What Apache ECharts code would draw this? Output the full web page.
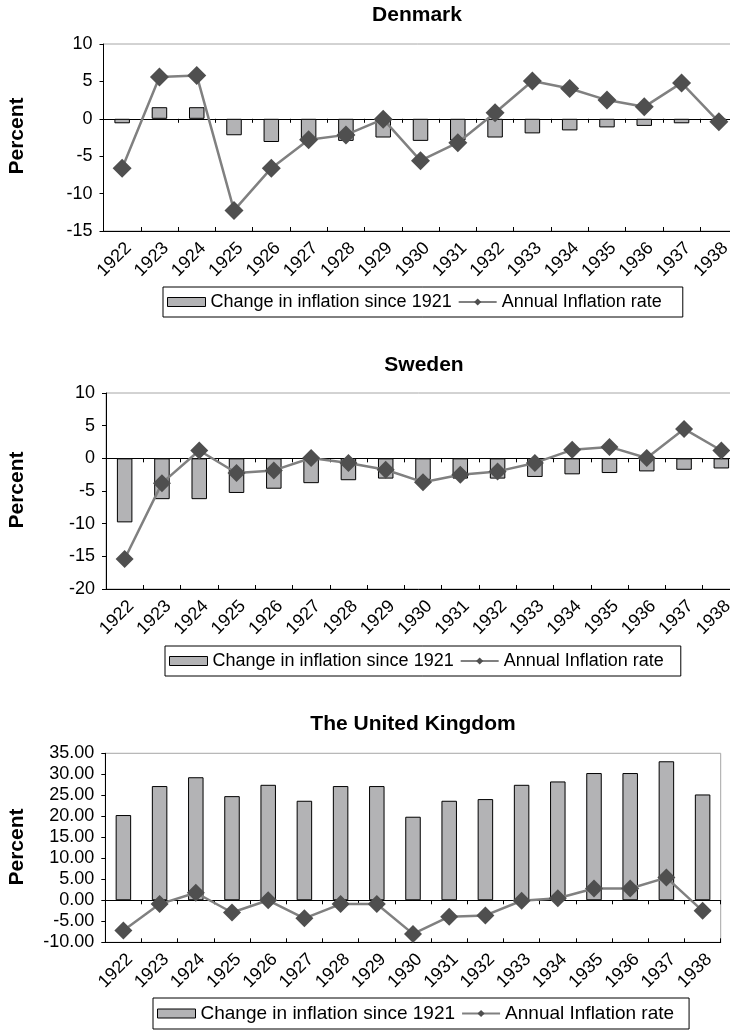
<!DOCTYPE html>
<html>
<head>
<meta charset="utf-8">
<script src="https://cdn.jsdelivr.net/npm/echarts@6/dist/echarts.min.js"></script>
<style>
  html, body { margin: 0; padding: 0; background: #fff; }
  #chart { width: 730px; height: 1030px; }
</style>
</head>
<body>
<div id="chart"></div>
<script>
// Inflation in Denmark, Sweden and the United Kingdom, 1922-1938
const years = ['1922', '1923', '1924', '1925', '1926', '1927', '1928', '1929', '1930',
               '1931', '1932', '1933', '1934', '1935', '1936', '1937', '1938'];

const BAR_NAME = 'Change in inflation since 1921';
const LINE_NAME = 'Annual Inflation rate';

const denmarkChange = [-0.6, 1.55, 1.55, -2.2, -3.1, -2.9, -2.95, -2.5, -2.95, -2.9, -2.5, -1.95, -1.55, -1.15, -0.95, -0.6, -0.3];
const denmarkAnnual = [-6.6, 5.6, 5.8, -12.25, -6.6, -2.8, -2.15, -0.05, -5.6, -3.2, 0.8, 5.05, 4.05, 2.5, 1.6, 4.8, -0.4];

const swedenChange = [-9.8, -6.25, -6.25, -5.3, -4.65, -3.8, -3.35, -3.1, -3.3, -3.1, -3.1, -2.85, -2.45, -2.25, -2.0, -1.75, -1.55];
const swedenAnnual = [-15.4, -3.8, 1.2, -2.25, -1.85, 0.05, -0.7, -1.75, -3.65, -2.5, -2.0, -0.7, 1.3, 1.75, 0.05, 4.5, 1.2];

const ukChange = [20.3, 27.2, 29.3, 24.8, 27.5, 23.7, 27.2, 27.2, 19.9, 23.7, 24.1, 27.5, 28.3, 30.3, 30.3, 33.1, 25.2];
const ukAnnual = [-7.2, -0.9, 1.8, -2.9, 0.0, -4.3, -0.9, -0.9, -8.0, -3.9, -3.6, -0.1, 0.5, 2.8, 2.8, 5.4, -2.5];

// y-axis tick values for each panel
const denmarkTicks = [-15, -10, -5, 0, 5, 10];
const swedenTicks = [-20, -15, -10, -5, 0, 5, 10];
const ukTicks = [-10, -5, 0, 5, 10, 15, 20, 25, 30, 35];

const FONT = "'Liberation Sans', Arial, Helvetica, sans-serif";

const panels = [
  { title: 'Denmark', change: denmarkChange, annual: denmarkAnnual, ticks: denmarkTicks, decimals: 0,
    grid: { left: 103.5, top: 44, width: 634, height: 187 },
    titleX: 417, titleY: 15, labelY: 136,
    legend: { left: 163, top: 287, fontSize: 18, padRight: 21 }, symbolSize: 19 },
  { title: 'Sweden', change: swedenChange, annual: swedenAnnual, ticks: swedenTicks, decimals: 0,
    grid: { left: 106, top: 393, width: 634, height: 196 },
    titleX: 424, titleY: 365, labelY: 490,
    legend: { left: 165, top: 646, fontSize: 18, padRight: 17 }, symbolSize: 18 },
  { title: 'The United Kingdom', change: ukChange, annual: ukAnnual, ticks: ukTicks, decimals: 2,
    grid: { left: 105.3, top: 753.3, width: 615.4, height: 189 },
    titleX: 413, titleY: 724, labelY: 847,
    legend: { left: 153, top: 998, fontSize: 19, padRight: 15 }, symbolSize: 18 }
];

const option = {
  animation: false,
  backgroundColor: '#ffffff',
  textStyle: { fontFamily: FONT },
  grid: [], xAxis: [], yAxis: [], series: [], legend: [], graphic: []
};

panels.forEach((p, i) => {
  // plot area keeps its given box even where it runs past the canvas edge
  option.grid.push(Object.assign({
    show: true, borderColor: '#a6a6a6', borderWidth: 1, backgroundColor: 'transparent',
    outerBoundsMode: 'none', containLabel: false
  }, p.grid));

  // category axis carrying the year labels along the bottom of the plot
  option.xAxis.push({
    type: 'category', gridIndex: i, data: years, position: 'bottom',
    axisLine: { show: false, onZero: false },
    axisTick: { show: false },
    splitLine: { show: false },
    axisLabel: {
      rotate: 45, interval: 0, fontSize: 18, color: '#000', fontFamily: FONT,
      margin: 8, verticalAlign: 'top'
    }
  });
  // zero line with ticks below it
  option.xAxis.push({
    type: 'category', gridIndex: i, data: years, position: 'bottom',
    axisLine: { show: true, onZero: true, lineStyle: { color: '#000', width: 1 } },
    axisTick: { show: true, inside: false, length: 4, interval: 0, lineStyle: { color: '#000', width: 1 } },
    axisLabel: { show: false }, splitLine: { show: false }
  });
  // zero line ticks above it
  option.xAxis.push({
    type: 'category', gridIndex: i, data: years, position: 'bottom',
    axisLine: { show: true, onZero: true, lineStyle: { color: '#000', width: 1 } },
    axisTick: { show: true, inside: true, length: 4, interval: 0, lineStyle: { color: '#000', width: 1 } },
    axisLabel: { show: false }, splitLine: { show: false }
  });

  const t = p.ticks;
  option.yAxis.push({
    type: 'value', gridIndex: i,
    min: t[0], max: t[t.length - 1], interval: t[1] - t[0],
    axisLine: { show: true, lineStyle: { color: '#000', width: 1 } },
    axisTick: { show: true, length: 4, lineStyle: { color: '#000', width: 1 } },
    splitLine: { show: false },
    axisLabel: {
      fontSize: 18, color: '#000', fontFamily: FONT, margin: 11,
      formatter: v => v.toFixed(p.decimals)
    }
  });

  option.series.push({
    type: 'bar', name: BAR_NAME, xAxisIndex: i * 3, yAxisIndex: i,
    data: p.change, barWidth: 15.5,
    itemStyle: { color: '#b3b3b5', borderColor: '#000', borderWidth: 1 },
    z: 2
  });
  option.series.push({
    type: 'line', name: LINE_NAME, xAxisIndex: i * 3, yAxisIndex: i,
    data: p.annual, symbol: 'diamond', symbolSize: p.symbolSize,
    itemStyle: { color: '#4f4f4f' },
    lineStyle: { color: '#808080', width: 2.5 },
    z: 3
  });

  option.legend.push({
    left: p.legend.left, top: p.legend.top, orient: 'horizontal',
    selectedMode: false,
    itemWidth: 38, itemHeight: 9, itemGap: 6,
    padding: [6, p.legend.padRight, 6, 4],
    borderColor: '#000', borderWidth: 1,
    textStyle: { fontSize: p.legend.fontSize, color: '#000', fontFamily: FONT },
    data: [
      { name: BAR_NAME, icon: 'rect', itemStyle: { color: '#b3b3b5', borderColor: '#000', borderWidth: 1 } },
      { name: LINE_NAME }
    ]
  });

  option.graphic.push({
    type: 'text', x: p.titleX, y: p.titleY,
    style: { text: p.title, font: 'bold 21px ' + FONT, fill: '#000', align: 'center', verticalAlign: 'middle' }
  });
  option.graphic.push({
    type: 'text', x: 17.5, y: p.labelY, rotation: Math.PI / 2,
    style: { text: 'Percent', font: 'bold 21px ' + FONT, fill: '#000', align: 'center', verticalAlign: 'middle' }
  });
});

const chart = echarts.init(document.getElementById('chart'), null, { renderer: 'canvas' });
chart.setOption(option);
</script>
</body>
</html>
